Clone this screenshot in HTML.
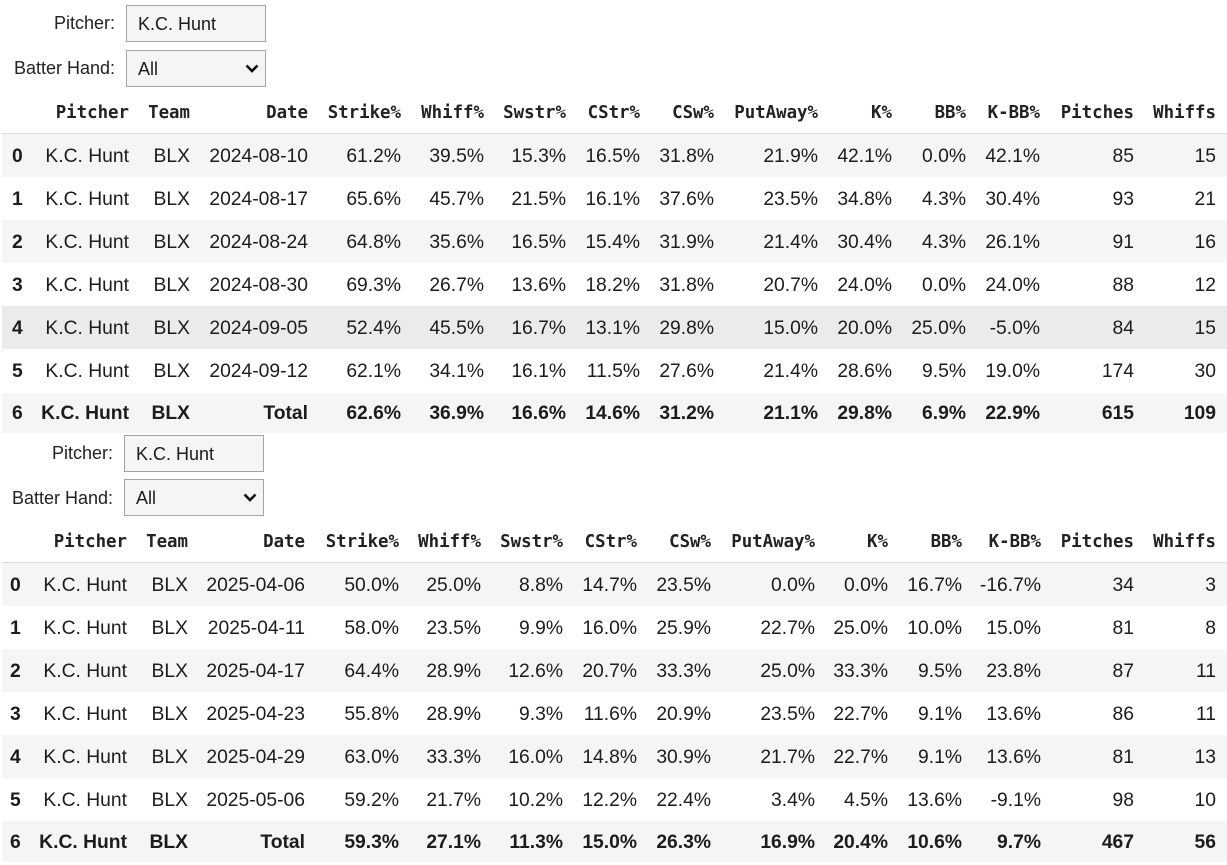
<!DOCTYPE html>
<html><head><meta charset="utf-8">
<style>
html,body{margin:0;padding:0;background:#fff;}
body{width:1227px;height:862px;position:relative;overflow:hidden;font-family:"Liberation Sans",Arial,sans-serif;color:#1c1c1c;}
.lbl{position:absolute;font-size:18px;line-height:20px;white-space:nowrap;color:#222;}
.box{position:absolute;width:138px;height:35px;border:1px solid #a3a3a3;background:#f5f5f5;font-size:18px;line-height:36px;box-sizing:content-box;}
.box span{position:absolute;left:11px;top:0;}
.box svg{position:absolute;left:118px;top:13px;}
.r{position:absolute;left:2px;width:1225px;height:43px;line-height:45px;font-size:19.3px;}
.g{background:#f5f5f5;}
.h4{background:#ebebeb;}
.r span{position:absolute;white-space:nowrap;top:0;}
.hd{position:absolute;left:2px;width:1225px;height:43px;line-height:47px;border-bottom:1px solid #dcdcdc;font-family:"DejaVu Sans Mono","Liberation Mono",monospace;font-weight:bold;font-size:17.4px;color:#222;}
.hd span{position:absolute;white-space:nowrap;top:0;}
.i{font-weight:bold;}
.b span{font-weight:bold;}
.t1 .ix{left:10px;}
.t1 .a{right:1098px}.t1 .c2{right:1037px}.t1 .c3{right:919px}.t1 .c4{right:826px}.t1 .c5{right:743px}
.t1 .c6{right:661px}.t1 .c7{right:587px}.t1 .c8{right:513px}.t1 .c9{right:409px}.t1 .c10{right:335px}
.t1 .c11{right:261px}.t1 .c12{right:187px}.t1 .c13{right:93px}.t1 .c14{right:11px}
.t2 .ix{left:8px;}
.t2 .a{right:1100px}.t2 .c2{right:1039px}.t2 .c3{right:922px}.t2 .c4{right:828px}.t2 .c5{right:746px}
.t2 .c6{right:664px}.t2 .c7{right:590px}.t2 .c8{right:516px}.t2 .c9{right:412px}.t2 .c10{right:339px}
.t2 .c11{right:265px}.t2 .c12{right:186px}.t2 .c13{right:93px}.t2 .c14{right:11px}
</style></head><body>

<div class="lbl" style="right:1112px;top:13px;">Pitcher:</div>
<div class="box" style="left:126px;top:5px;"><span>K.C. Hunt</span></div>
<div class="lbl" style="right:1112px;top:58px;">Batter Hand:</div>
<div class="box" style="left:126px;top:50px;"><span>All</span><svg width="14" height="9" viewBox="0 0 14 9"><polyline points="1.5,1.5 7,7 12.5,1.5" fill="none" stroke="#111" stroke-width="2.6"/></svg></div>

<div class="t1">
<div class="hd" style="top:90px;"><span class="a">Pitcher</span><span class="c2">Team</span><span class="c3">Date</span><span class="c4">Strike%</span><span class="c5">Whiff%</span><span class="c6">Swstr%</span><span class="c7">CStr%</span><span class="c8">CSw%</span><span class="c9">PutAway%</span><span class="c10">K%</span><span class="c11">BB%</span><span class="c12">K-BB%</span><span class="c13">Pitches</span><span class="c14">Whiffs</span></div>
<div class="r g" style="top:134px;"><span class="ix i">0</span><span class="a">K.C. Hunt</span><span class="c2">BLX</span><span class="c3">2024-08-10</span><span class="c4">61.2%</span><span class="c5">39.5%</span><span class="c6">15.3%</span><span class="c7">16.5%</span><span class="c8">31.8%</span><span class="c9">21.9%</span><span class="c10">42.1%</span><span class="c11">0.0%</span><span class="c12">42.1%</span><span class="c13">85</span><span class="c14">15</span></div>
<div class="r" style="top:177px;"><span class="ix i">1</span><span class="a">K.C. Hunt</span><span class="c2">BLX</span><span class="c3">2024-08-17</span><span class="c4">65.6%</span><span class="c5">45.7%</span><span class="c6">21.5%</span><span class="c7">16.1%</span><span class="c8">37.6%</span><span class="c9">23.5%</span><span class="c10">34.8%</span><span class="c11">4.3%</span><span class="c12">30.4%</span><span class="c13">93</span><span class="c14">21</span></div>
<div class="r g" style="top:220px;"><span class="ix i">2</span><span class="a">K.C. Hunt</span><span class="c2">BLX</span><span class="c3">2024-08-24</span><span class="c4">64.8%</span><span class="c5">35.6%</span><span class="c6">16.5%</span><span class="c7">15.4%</span><span class="c8">31.9%</span><span class="c9">21.4%</span><span class="c10">30.4%</span><span class="c11">4.3%</span><span class="c12">26.1%</span><span class="c13">91</span><span class="c14">16</span></div>
<div class="r" style="top:263px;"><span class="ix i">3</span><span class="a">K.C. Hunt</span><span class="c2">BLX</span><span class="c3">2024-08-30</span><span class="c4">69.3%</span><span class="c5">26.7%</span><span class="c6">13.6%</span><span class="c7">18.2%</span><span class="c8">31.8%</span><span class="c9">20.7%</span><span class="c10">24.0%</span><span class="c11">0.0%</span><span class="c12">24.0%</span><span class="c13">88</span><span class="c14">12</span></div>
<div class="r h4" style="top:306px;"><span class="ix i">4</span><span class="a">K.C. Hunt</span><span class="c2">BLX</span><span class="c3">2024-09-05</span><span class="c4">52.4%</span><span class="c5">45.5%</span><span class="c6">16.7%</span><span class="c7">13.1%</span><span class="c8">29.8%</span><span class="c9">15.0%</span><span class="c10">20.0%</span><span class="c11">25.0%</span><span class="c12">-5.0%</span><span class="c13">84</span><span class="c14">15</span></div>
<div class="r" style="top:349px;"><span class="ix i">5</span><span class="a">K.C. Hunt</span><span class="c2">BLX</span><span class="c3">2024-09-12</span><span class="c4">62.1%</span><span class="c5">34.1%</span><span class="c6">16.1%</span><span class="c7">11.5%</span><span class="c8">27.6%</span><span class="c9">21.4%</span><span class="c10">28.6%</span><span class="c11">9.5%</span><span class="c12">19.0%</span><span class="c13">174</span><span class="c14">30</span></div>
<div class="r g b" style="top:393px;height:40px;line-height:42px;"><span class="ix">6</span><span class="a">K.C. Hunt</span><span class="c2">BLX</span><span class="c3">Total</span><span class="c4">62.6%</span><span class="c5">36.9%</span><span class="c6">16.6%</span><span class="c7">14.6%</span><span class="c8">31.2%</span><span class="c9">21.1%</span><span class="c10">29.8%</span><span class="c11">6.9%</span><span class="c12">22.9%</span><span class="c13">615</span><span class="c14">109</span></div>
</div>

<div class="lbl" style="right:1114px;top:443px;">Pitcher:</div>
<div class="box" style="left:124px;top:435px;"><span>K.C. Hunt</span></div>
<div class="lbl" style="right:1114px;top:488px;">Batter Hand:</div>
<div class="box" style="left:124px;top:479px;"><span>All</span><svg width="14" height="9" viewBox="0 0 14 9"><polyline points="1.5,1.5 7,7 12.5,1.5" fill="none" stroke="#111" stroke-width="2.6"/></svg></div>

<div class="t2">
<div class="hd" style="top:519px;"><span class="a">Pitcher</span><span class="c2">Team</span><span class="c3">Date</span><span class="c4">Strike%</span><span class="c5">Whiff%</span><span class="c6">Swstr%</span><span class="c7">CStr%</span><span class="c8">CSw%</span><span class="c9">PutAway%</span><span class="c10">K%</span><span class="c11">BB%</span><span class="c12">K-BB%</span><span class="c13">Pitches</span><span class="c14">Whiffs</span></div>
<div class="r g" style="top:563px;"><span class="ix i">0</span><span class="a">K.C. Hunt</span><span class="c2">BLX</span><span class="c3">2025-04-06</span><span class="c4">50.0%</span><span class="c5">25.0%</span><span class="c6">8.8%</span><span class="c7">14.7%</span><span class="c8">23.5%</span><span class="c9">0.0%</span><span class="c10">0.0%</span><span class="c11">16.7%</span><span class="c12">-16.7%</span><span class="c13">34</span><span class="c14">3</span></div>
<div class="r" style="top:606px;"><span class="ix i">1</span><span class="a">K.C. Hunt</span><span class="c2">BLX</span><span class="c3">2025-04-11</span><span class="c4">58.0%</span><span class="c5">23.5%</span><span class="c6">9.9%</span><span class="c7">16.0%</span><span class="c8">25.9%</span><span class="c9">22.7%</span><span class="c10">25.0%</span><span class="c11">10.0%</span><span class="c12">15.0%</span><span class="c13">81</span><span class="c14">8</span></div>
<div class="r g" style="top:649px;"><span class="ix i">2</span><span class="a">K.C. Hunt</span><span class="c2">BLX</span><span class="c3">2025-04-17</span><span class="c4">64.4%</span><span class="c5">28.9%</span><span class="c6">12.6%</span><span class="c7">20.7%</span><span class="c8">33.3%</span><span class="c9">25.0%</span><span class="c10">33.3%</span><span class="c11">9.5%</span><span class="c12">23.8%</span><span class="c13">87</span><span class="c14">11</span></div>
<div class="r" style="top:692px;"><span class="ix i">3</span><span class="a">K.C. Hunt</span><span class="c2">BLX</span><span class="c3">2025-04-23</span><span class="c4">55.8%</span><span class="c5">28.9%</span><span class="c6">9.3%</span><span class="c7">11.6%</span><span class="c8">20.9%</span><span class="c9">23.5%</span><span class="c10">22.7%</span><span class="c11">9.1%</span><span class="c12">13.6%</span><span class="c13">86</span><span class="c14">11</span></div>
<div class="r g" style="top:735px;"><span class="ix i">4</span><span class="a">K.C. Hunt</span><span class="c2">BLX</span><span class="c3">2025-04-29</span><span class="c4">63.0%</span><span class="c5">33.3%</span><span class="c6">16.0%</span><span class="c7">14.8%</span><span class="c8">30.9%</span><span class="c9">21.7%</span><span class="c10">22.7%</span><span class="c11">9.1%</span><span class="c12">13.6%</span><span class="c13">81</span><span class="c14">13</span></div>
<div class="r" style="top:778px;"><span class="ix i">5</span><span class="a">K.C. Hunt</span><span class="c2">BLX</span><span class="c3">2025-05-06</span><span class="c4">59.2%</span><span class="c5">21.7%</span><span class="c6">10.2%</span><span class="c7">12.2%</span><span class="c8">22.4%</span><span class="c9">3.4%</span><span class="c10">4.5%</span><span class="c11">13.6%</span><span class="c12">-9.1%</span><span class="c13">98</span><span class="c14">10</span></div>
<div class="r g b" style="top:821px;height:41px;line-height:44px;"><span class="ix">6</span><span class="a">K.C. Hunt</span><span class="c2">BLX</span><span class="c3">Total</span><span class="c4">59.3%</span><span class="c5">27.1%</span><span class="c6">11.3%</span><span class="c7">15.0%</span><span class="c8">26.3%</span><span class="c9">16.9%</span><span class="c10">20.4%</span><span class="c11">10.6%</span><span class="c12">9.7%</span><span class="c13">467</span><span class="c14">56</span></div>
</div>

</body></html>
